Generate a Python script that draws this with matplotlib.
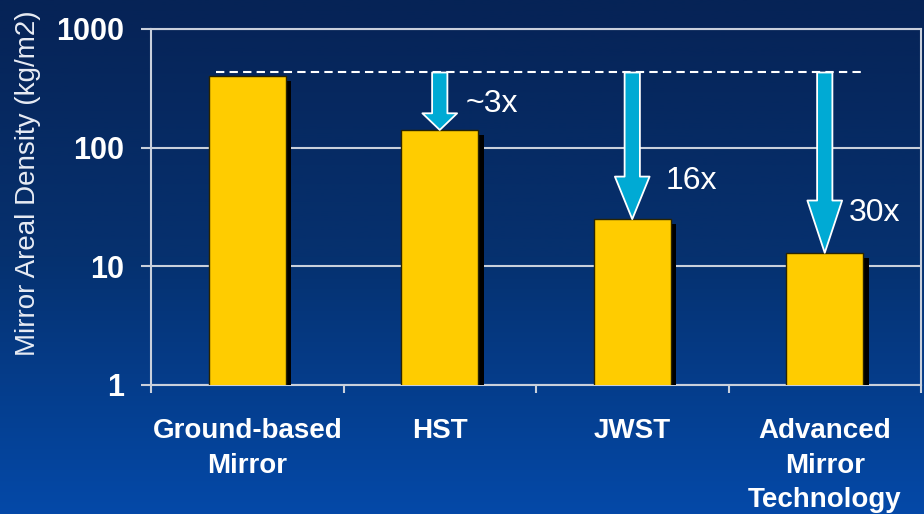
import numpy as np
import matplotlib
matplotlib.use("Agg")
import matplotlib.pyplot as plt
from matplotlib.colors import LinearSegmentedColormap
from matplotlib.patches import FancyArrowPatch, ArrowStyle
import matplotlib.patheffects as pe

plt.rcParams["font.family"] = ["Liberation Sans", "DejaVu Sans"]

# data
categories = ["Ground-based\nMirror", "HST", "JWST", "Advanced\nMirror\nTechnology"]
density = [400, 141, 25, 13]          # kg/m2
ref_level = 430                       # dashed reference line (ground-based)
factor_labels = ["", "~3x", "16x", "30x"]
y_ticks = [1, 10, 100, 1000]

W, H = 924, 514
fig = plt.figure(figsize=(W / 100, H / 100), dpi=100)

# gradient background
bg = fig.add_axes([0, 0, 1, 1], zorder=-10)
cmap = LinearSegmentedColormap.from_list("bg", ["#0449a8", "#06316f", "#062356"])
grad = np.linspace(0, 1, 256)[:, None]
bg.imshow(grad, cmap=cmap, aspect="auto", extent=[0, 1, 0, 1], origin="lower")
bg.axis("off")

ax = fig.add_axes([151 / W, 1 - 385 / H, (921 - 151) / W, (385 - 29) / H])
ax.set_facecolor("none")
ax.set_yscale("log")
ax.set_ylim(1, 1000)
ax.set_xlim(-0.5, 3.5)

line_col = "#c9d0dc"
for s in ax.spines.values():
    s.set_color(line_col)
    s.set_linewidth(1.5)

ax.yaxis.grid(True, which="major", color=line_col, lw=1.5)
ax.set_axisbelow(True)

x = np.arange(len(categories))
bars = ax.bar(x, density, width=0.4, color="#ffcc00", edgecolor="#2a2400",
              linewidth=1, zorder=3)
for b in bars:
    b.set_path_effects([pe.SimplePatchShadow(offset=(4, -3.6), shadow_rgbFace="black", alpha=1),
                        pe.Normal()])

# y axis ticks
ax.set_yticks(y_ticks)
ax.set_yticklabels([str(v) for v in y_ticks])
ax.yaxis.set_minor_locator(matplotlib.ticker.NullLocator())
ax.tick_params(axis="y", which="major", direction="out", length=7, width=1.5,
               color=line_col, labelcolor="white", labelsize=22, pad=12)
for t in ax.get_yticklabels():
    t.set_fontweight("bold")

# x axis: ticks at boundaries, labels at centres
ax.set_xticks(np.arange(-0.5, 4, 1.0))
ax.set_xticklabels([])
ax.set_xticks(x, minor=True)
ax.set_xticklabels(categories, minor=True, fontweight="bold", fontsize=20,
                   color="white", linespacing=1.42)
ax.tick_params(axis="x", which="major", direction="out", length=6, width=1.5, color=line_col)
ax.tick_params(axis="x", which="minor", length=0, pad=24)

# dashed reference line
ax.plot([-0.16, 3.19], [ref_level, ref_level], color="white", lw=1.5,
        ls=(0, (4, 2.5)), zorder=4)

# arrows from reference line down to each bar
for i in range(1, len(categories)):
    p0 = ax.transData.transform((x[i], ref_level))
    p1 = ax.transData.transform((x[i], density[i]))
    length_pt = (p0[1] - p1[1]) * 72 / fig.dpi
    style = ArrowStyle.Simple(head_length=0.29 * length_pt, head_width=25, tail_width=11)
    arr = FancyArrowPatch((x[i], ref_level), (x[i], density[i]), arrowstyle=style,
                          mutation_scale=1, shrinkA=0, shrinkB=0,
                          facecolor="#00aad4", edgecolor="white", lw=1.3, zorder=5)
    ax.add_patch(arr)

# factor labels
label_pos = [None, (466, 104), (666, 181), (849, 213)]
for i in range(1, len(categories)):
    px, py = label_pos[i]
    fig.text(px / W, 1 - py / H, factor_labels[i], color="white",
             fontsize=23, ha="left", va="center")

fig.text(28 / W, 1 - 183 / H, "Mirror Areal Density (kg/m2)", rotation=90,
         color="#e8ecf4", fontsize=20, ha="center", va="center")

fig.savefig("out.png", dpi=100)
